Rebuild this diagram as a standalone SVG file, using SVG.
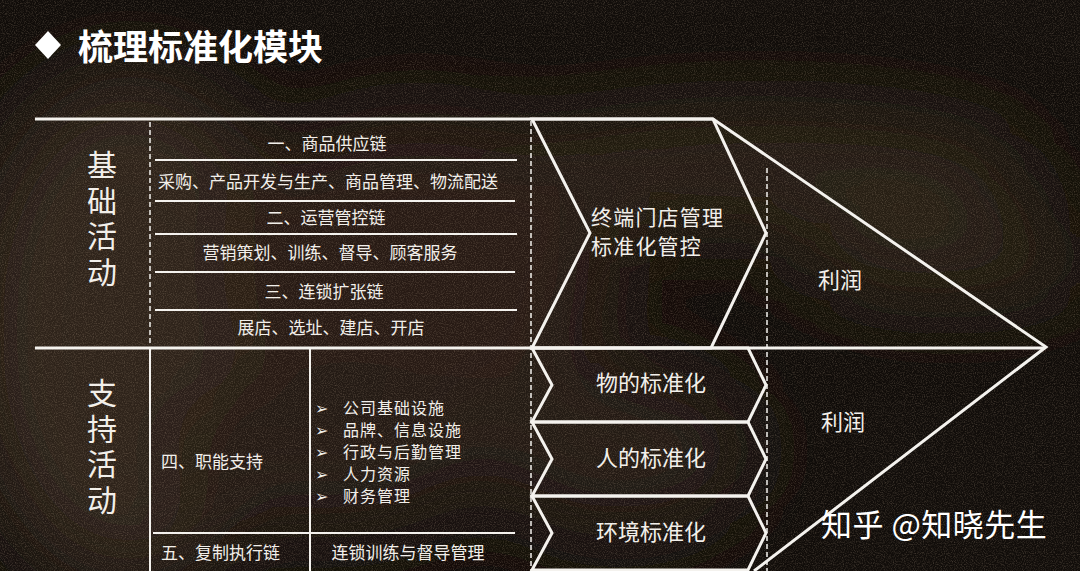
<svg xmlns="http://www.w3.org/2000/svg" width="1080" height="571" viewBox="0 0 1080 571">
<defs>
<style>
text{font-family:"Noto Sans CJK SC","Noto Sans",sans-serif;fill:#f2efea;}
.t17{font-size:17px;}
.t16{font-size:16px;letter-spacing:1px;}
.t22{font-size:22px;}
.t21{font-size:21px;letter-spacing:1.2px;}
.v{font-size:30px;text-anchor:middle;writing-mode:vertical-rl;letter-spacing:5.5px;}
.c{text-anchor:middle;}
.arw{font-family:"DejaVu Sans",sans-serif;}
.ln{stroke:#f4f2ee;stroke-width:3;fill:none;stroke-linejoin:miter;}
.thin{stroke:#f4f2ee;stroke-width:2;fill:none;}
.dash{stroke:#f4f2ee;stroke-width:1.5;stroke-dasharray:5 3;fill:none;}
</style>
<filter id="blur" x="-50%" y="-50%" width="200%" height="200%"><feGaussianBlur stdDeviation="45"/></filter>
<filter id="noise" x="0" y="0" width="100%" height="100%">
<feTurbulence type="fractalNoise" baseFrequency="0.9" numOctaves="2" seed="3" result="n"/>
<feColorMatrix type="matrix" values="0 0 0 0 0.55  0 0 0 0 0.42  0 0 0 0 0.3  0 0 0 -2.2 1.25"/>
</filter>
</defs>
<rect width="1080" height="571" fill="#110d0a"/>
<g id="bg-tones" filter="url(#blur)" opacity="0.9">
<ellipse cx="130" cy="330" rx="170" ry="260" fill="#30251b"/>
<ellipse cx="420" cy="260" rx="200" ry="150" fill="#291f16"/>
<ellipse cx="760" cy="170" rx="280" ry="60" fill="#2c2118"/>
<ellipse cx="950" cy="260" rx="150" ry="45" fill="#2c2118"/>
<ellipse cx="330" cy="450" rx="160" ry="90" fill="#261c14"/>
<ellipse cx="620" cy="450" rx="140" ry="90" fill="#251b13"/>
</g>
<rect width="1080" height="571" filter="url(#noise)" opacity="0.26"/>

<g id="title">
<polygon points="48,31 61,45 48,59 35,45" fill="#ffffff"/>
<text x="78" y="60" style="font-size:35px;font-weight:700;fill:#ffffff">梳理标准化模块</text>
</g>

<g id="connectors">
<line class="ln" x1="35" y1="119" x2="713" y2="119"/>
<line class="ln" x1="35" y1="348" x2="1045" y2="348"/>
<line class="dash" x1="150" y1="122" x2="150" y2="346"/>
<line class="thin" x1="150" y1="348" x2="150" y2="571"/>
<line class="thin" x1="310" y1="348" x2="310" y2="571"/>
<line class="dash" x1="531" y1="121" x2="531" y2="571"/>
<line class="dash" x1="767" y1="168" x2="767" y2="571"/>
<line class="thin" x1="155" y1="160" x2="517" y2="160"/>
<line class="thin" x1="155" y1="201" x2="515" y2="201"/>
<line class="thin" x1="155" y1="234" x2="517" y2="234"/>
<line class="thin" x1="155" y1="272" x2="515" y2="272"/>
<line class="thin" x1="155" y1="310" x2="517" y2="310"/>
<line class="thin" x1="153" y1="533" x2="515" y2="533"/>
<polyline class="ln" points="713,119 1046,347 754,571"/>
</g>

<g id="basic-label">
<text class="v" x="102" y="221">基础活动</text>
</g>

<g id="basic-rows">
<text class="t17 c" x="327" y="150">一、商品供应链</text>
<text class="t17 c" x="328" y="188">采购、产品开发与生产、商品管理、物流配送</text>
<text class="t17 c" x="326" y="224">二、运营管控链</text>
<text class="t17 c" x="330" y="259">营销策划、训练、督导、顾客服务</text>
<text class="t17 c" x="324" y="298">三、连锁扩张链</text>
<text class="t17 c" x="331" y="334">展店、选址、建店、开店</text>
</g>

<g id="support-label">
<text class="v" x="102" y="449">支持活动</text>
</g>

<g id="support-rows">
<text class="t17" x="161" y="468">四、职能支持</text>
<text class="t16">
<tspan class="arw" x="315" y="414">➢</tspan><tspan x="343" y="414">公司基础设施</tspan>
<tspan class="arw" x="315" y="436">➢</tspan><tspan x="343" y="436">品牌、信息设施</tspan>
<tspan class="arw" x="315" y="458">➢</tspan><tspan x="343" y="458">行政与后勤管理</tspan>
<tspan class="arw" x="315" y="480">➢</tspan><tspan x="343" y="480">人力资源</tspan>
<tspan class="arw" x="315" y="502">➢</tspan><tspan x="343" y="502">财务管理</tspan>
</text>
<text class="t17" x="161" y="559">五、复制执行链</text>
<text class="t17 c" x="408" y="559">连锁训练与督导管理</text>
</g>

<g id="store-control">
<polygon class="ln" points="532,119 713,119 766,233 711,348 532,348 590,233"/>
<text class="t21" x="591" y="225">终端门店管理</text>
<text class="t21" x="591" y="254">标准化管控</text>
</g>

<g id="std-things">
<polygon class="ln" points="532,348 748,348 766,385 748,422 532,422 552,385"/>
<text class="t22 c" x="651" y="391">物的标准化</text>
</g>
<g id="std-people">
<polygon class="ln" points="532,422 748,422 766,459 748,496 532,496 552,459"/>
<text class="t22 c" x="651" y="466">人的标准化</text>
</g>
<g id="std-env">
<polygon class="ln" points="532,496 748,496 766,533 748,570 532,570 552,533"/>
<text class="t22 c" x="651" y="540">环境标准化</text>
</g>

<g id="profit">
<text class="t22 c" x="840" y="288">利润</text>
<text class="t22 c" x="843" y="430">利润</text>
</g>

<g id="watermark">
<text x="821" y="536" style="font-size:31px;fill:#ffffff;letter-spacing:0.5px">知乎 @知晓先生</text>
</g>
</svg>
